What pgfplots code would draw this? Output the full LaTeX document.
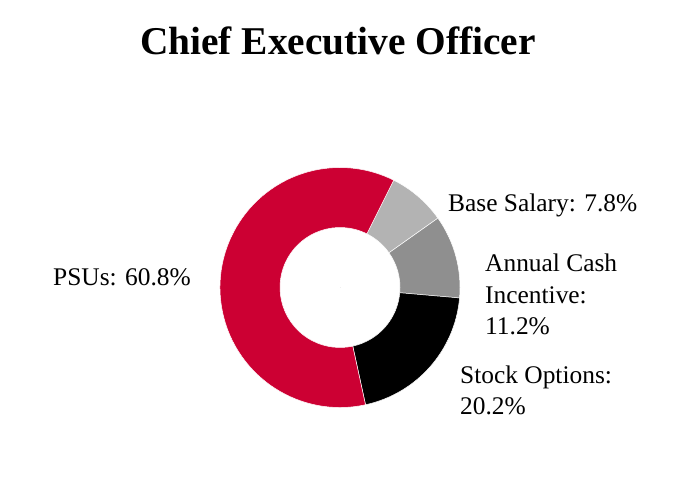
\documentclass[border=0pt]{standalone}
\usepackage{pgfplots}
\pgfplotsset{compat=1.18}
\usepackage{pgfplotstable}
\usepackage{fontspec}
\setmainfont{Liberation Serif}

\definecolor{psured}{HTML}{CC0033}
\definecolor{basegray}{HTML}{B3B3B3}
\definecolor{cashgray}{HTML}{8F8F8F}
\definecolor{optblack}{HTML}{000000}

% slices in percent, clockwise from the top boundary; col: 0 base, 1 cash, 2 options, 3 PSUs
\pgfplotstableread{
x   y     from  to    col
340 212.5 0     7.8   0
340 212.5 7.8   19.0  1
340 212.5 19.0  39.2  2
340 212.5 39.2  100   3
}\donut

\tikzset{lbl/.style={inner sep=0pt, anchor=base west, font=\fontsize{25.5}{30}\selectfont}}

\begin{document}
\begin{tikzpicture}
\begin{axis}[
  scale only axis, width=680bp, height=500bp,
  xmin=0, xmax=680, ymin=0, ymax=500,
  hide axis, clip=false,
]
\addplot[scatter, only marks, mark=*, mark size=0pt,
  mark options={draw=none, fill=none},
  visualization depends on={\thisrow{from}\as\pfrom},
  visualization depends on={\thisrow{to}\as\pto},
  visualization depends on={\thisrow{col}\as\pcol},
  scatter/@pre marker code/.code={%
    \pgfmathsetmacro\aa{63.4-3.6*\pfrom}%
    \pgfmathsetmacro\ab{63.4-3.6*\pto}%
    \pgfmathtruncatemacro\ci{\pcol}%
    \ifcase\ci\relax \def\slicecol{basegray}\or \def\slicecol{cashgray}\or
      \def\slicecol{optblack}\else \def\slicecol{psured}\fi
    \fill[\slicecol, draw=white, line width=0.5bp] (\aa:120bp)
      arc[start angle=\aa, end angle=\ab, radius=120bp] -- (\ab:60bp)
      arc[start angle=\ab, end angle=\aa, radius=60bp] -- cycle;
  },
  scatter/@post marker code/.code={},
] table[x=x, y=y] {\donut};

\node[inner sep=0pt, anchor=base, font=\bfseries\fontsize{39.5}{44}\selectfont] at (axis cs:338,445) {Chief Executive Officer};

\node[lbl] at (axis cs:448,288.3) {Base Salary: 7.8\%};
\node[lbl] at (axis cs:485,228.3) {Annual Cash};
\node[lbl] at (axis cs:485,196.7) {Incentive:};
\node[lbl] at (axis cs:485,165) {11.2\%};
\node[lbl] at (axis cs:460,116.7) {Stock Options:};
\node[lbl] at (axis cs:460,85) {20.2\%};
\node[lbl] at (axis cs:53,214) {PSUs: 60.8\%};
\end{axis}
\pgfresetboundingbox
\path (current axis.south west) rectangle (current axis.north east);
\end{tikzpicture}
\end{document}
